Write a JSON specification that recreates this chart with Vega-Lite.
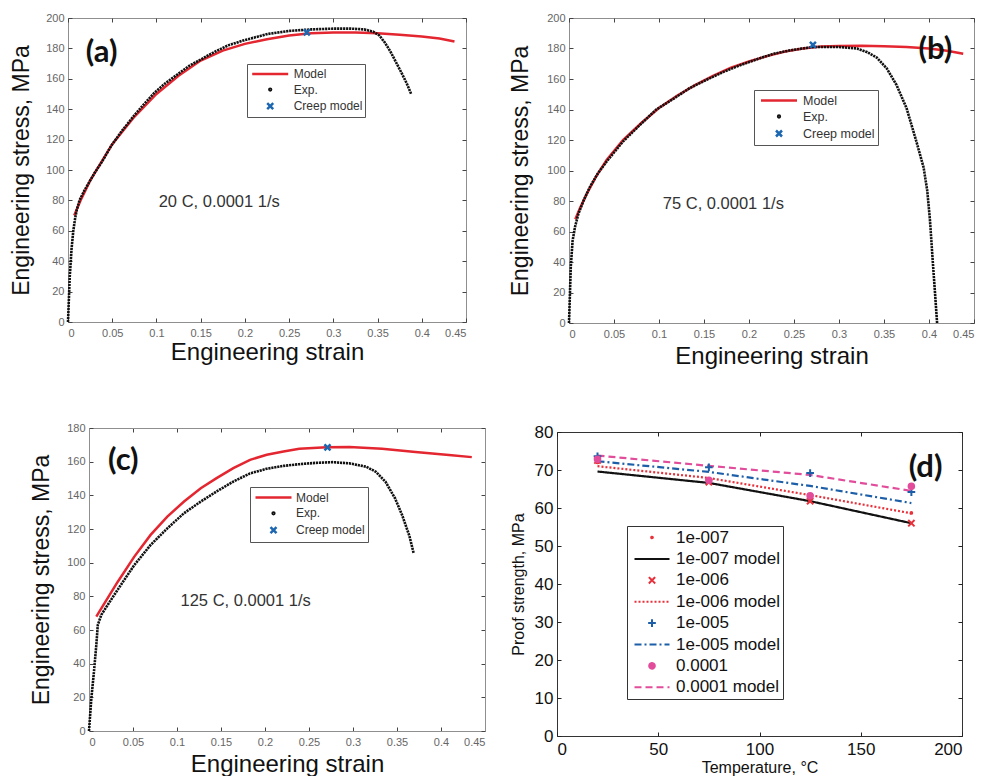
{
  "$schema": "https://vega.github.io/schema/vega-lite/v6.json",
  "padding": {"left": 10, "top": 11, "right": 0, "bottom": 0},
  "config": {
    "font": "Liberation Sans",
    "axis": {"grid": false, "domain": false, "tickSize": -4, "tickColor": "#444", "labelFont": "Liberation Sans", "titleFont": "Liberation Sans", "titleFontWeight": "normal", "titleColor": "#111"},
    "legend": {"labelFont": "Liberation Sans"}
  },
  "datasets": {
    "a": [
      {"series": "Model", "strain": 0.007, "stress": 70}, {"series": "Model", "strain": 0.015, "stress": 81}, {"series": "Model", "strain": 0.025, "stress": 93}, {"series": "Model", "strain": 0.05, "stress": 117}, {"series": "Model", "strain": 0.075, "stress": 135}, {"series": "Model", "strain": 0.1, "stress": 150}, {"series": "Model", "strain": 0.125, "stress": 162}, {"series": "Model", "strain": 0.15, "stress": 172}, {"series": "Model", "strain": 0.175, "stress": 178.5}, {"series": "Model", "strain": 0.2, "stress": 183}, {"series": "Model", "strain": 0.225, "stress": 186}, {"series": "Model", "strain": 0.25, "stress": 188.5}, {"series": "Model", "strain": 0.275, "stress": 190}, {"series": "Model", "strain": 0.3, "stress": 190.5}, {"series": "Model", "strain": 0.325, "stress": 190.5}, {"series": "Model", "strain": 0.35, "stress": 190}, {"series": "Model", "strain": 0.375, "stress": 189}, {"series": "Model", "strain": 0.4, "stress": 187.8}, {"series": "Model", "strain": 0.42, "stress": 186.5}, {"series": "Model", "strain": 0.437, "stress": 184.5},
      {"series": "Exp.", "strain": 0, "stress": 0}, {"series": "Exp.", "strain": 0.002, "stress": 30}, {"series": "Exp.", "strain": 0.004, "stress": 48}, {"series": "Exp.", "strain": 0.006, "stress": 60}, {"series": "Exp.", "strain": 0.008, "stress": 68}, {"series": "Exp.", "strain": 0.01, "stress": 74}, {"series": "Exp.", "strain": 0.013, "stress": 80}, {"series": "Exp.", "strain": 0.018, "stress": 86}, {"series": "Exp.", "strain": 0.023, "stress": 91}, {"series": "Exp.", "strain": 0.03, "stress": 98}, {"series": "Exp.", "strain": 0.038, "stress": 105}, {"series": "Exp.", "strain": 0.049, "stress": 116}, {"series": "Exp.", "strain": 0.06, "stress": 125}, {"series": "Exp.", "strain": 0.075, "stress": 136}, {"series": "Exp.", "strain": 0.087, "stress": 144}, {"series": "Exp.", "strain": 0.098, "stress": 151}, {"series": "Exp.", "strain": 0.11, "stress": 157}, {"series": "Exp.", "strain": 0.124, "stress": 163}, {"series": "Exp.", "strain": 0.137, "stress": 168.5}, {"series": "Exp.", "strain": 0.151, "stress": 173}, {"series": "Exp.", "strain": 0.165, "stress": 177.5}, {"series": "Exp.", "strain": 0.181, "stress": 182}, {"series": "Exp.", "strain": 0.2, "stress": 185.5}, {"series": "Exp.", "strain": 0.226, "stress": 189.5}, {"series": "Exp.", "strain": 0.25, "stress": 191.5}, {"series": "Exp.", "strain": 0.275, "stress": 192.5}, {"series": "Exp.", "strain": 0.3, "stress": 193}, {"series": "Exp.", "strain": 0.32, "stress": 193}, {"series": "Exp.", "strain": 0.335, "stress": 192.5}, {"series": "Exp.", "strain": 0.345, "stress": 191}, {"series": "Exp.", "strain": 0.352, "stress": 188.5}, {"series": "Exp.", "strain": 0.358, "stress": 184}, {"series": "Exp.", "strain": 0.364, "stress": 178.5}, {"series": "Exp.", "strain": 0.369, "stress": 173}, {"series": "Exp.", "strain": 0.377, "stress": 164}, {"series": "Exp.", "strain": 0.383, "stress": 157}, {"series": "Exp.", "strain": 0.388, "stress": 150},
      {"series": "Creep model", "strain": 0.27, "stress": 190.6}
    ],
    "b": [
      {"series": "Model", "strain": 0.007, "stress": 68}, {"series": "Model", "strain": 0.012, "stress": 75}, {"series": "Model", "strain": 0.02, "stress": 85}, {"series": "Model", "strain": 0.03, "stress": 96}, {"series": "Model", "strain": 0.042, "stress": 107}, {"series": "Model", "strain": 0.06, "stress": 120}, {"series": "Model", "strain": 0.08, "stress": 131}, {"series": "Model", "strain": 0.1, "stress": 141}, {"series": "Model", "strain": 0.12, "stress": 149}, {"series": "Model", "strain": 0.14, "stress": 156}, {"series": "Model", "strain": 0.16, "stress": 162}, {"series": "Model", "strain": 0.18, "stress": 167.5}, {"series": "Model", "strain": 0.2, "stress": 171.5}, {"series": "Model", "strain": 0.22, "stress": 175}, {"series": "Model", "strain": 0.24, "stress": 178}, {"series": "Model", "strain": 0.26, "stress": 180}, {"series": "Model", "strain": 0.28, "stress": 181.3}, {"series": "Model", "strain": 0.3, "stress": 181.7}, {"series": "Model", "strain": 0.325, "stress": 181.8}, {"series": "Model", "strain": 0.35, "stress": 181.5}, {"series": "Model", "strain": 0.375, "stress": 181}, {"series": "Model", "strain": 0.4, "stress": 180}, {"series": "Model", "strain": 0.42, "stress": 178.5}, {"series": "Model", "strain": 0.438, "stress": 176.5},
      {"series": "Exp.", "strain": 0, "stress": 0}, {"series": "Exp.", "strain": 0.002, "stress": 37}, {"series": "Exp.", "strain": 0.004, "stress": 54}, {"series": "Exp.", "strain": 0.0067, "stress": 63}, {"series": "Exp.", "strain": 0.0104, "stress": 71.5}, {"series": "Exp.", "strain": 0.016, "stress": 80}, {"series": "Exp.", "strain": 0.023, "stress": 89}, {"series": "Exp.", "strain": 0.032, "stress": 98}, {"series": "Exp.", "strain": 0.042, "stress": 106}, {"series": "Exp.", "strain": 0.06, "stress": 119}, {"series": "Exp.", "strain": 0.079, "stress": 130}, {"series": "Exp.", "strain": 0.097, "stress": 140}, {"series": "Exp.", "strain": 0.116, "stress": 147}, {"series": "Exp.", "strain": 0.134, "stress": 154}, {"series": "Exp.", "strain": 0.153, "stress": 159.5}, {"series": "Exp.", "strain": 0.171, "stress": 164.5}, {"series": "Exp.", "strain": 0.19, "stress": 169}, {"series": "Exp.", "strain": 0.209, "stress": 173}, {"series": "Exp.", "strain": 0.227, "stress": 176.5}, {"series": "Exp.", "strain": 0.246, "stress": 178.8}, {"series": "Exp.", "strain": 0.271, "stress": 181}, {"series": "Exp.", "strain": 0.3, "stress": 181}, {"series": "Exp.", "strain": 0.32, "stress": 180}, {"series": "Exp.", "strain": 0.331, "stress": 177.7}, {"series": "Exp.", "strain": 0.342, "stress": 174}, {"series": "Exp.", "strain": 0.353, "stress": 167}, {"series": "Exp.", "strain": 0.364, "stress": 156}, {"series": "Exp.", "strain": 0.375, "stress": 141}, {"series": "Exp.", "strain": 0.386, "stress": 119}, {"series": "Exp.", "strain": 0.394, "stress": 102}, {"series": "Exp.", "strain": 0.398, "stress": 87}, {"series": "Exp.", "strain": 0.401, "stress": 68}, {"series": "Exp.", "strain": 0.404, "stress": 42}, {"series": "Exp.", "strain": 0.407, "stress": 17}, {"series": "Exp.", "strain": 0.409, "stress": 0},
      {"series": "Creep model", "strain": 0.271, "stress": 182.4}
    ],
    "c": [
      {"series": "Model", "strain": 0.0083, "stress": 67.9}, {"series": "Model", "strain": 0.014, "stress": 72.8}, {"series": "Model", "strain": 0.0327, "stress": 88.7}, {"series": "Model", "strain": 0.0515, "stress": 103.6}, {"series": "Model", "strain": 0.07, "stress": 116.5}, {"series": "Model", "strain": 0.089, "stress": 127.4}, {"series": "Model", "strain": 0.108, "stress": 136.3}, {"series": "Model", "strain": 0.127, "stress": 144.2}, {"series": "Model", "strain": 0.145, "stress": 150.2}, {"series": "Model", "strain": 0.164, "stress": 156.2}, {"series": "Model", "strain": 0.183, "stress": 161.1}, {"series": "Model", "strain": 0.202, "stress": 164.1}, {"series": "Model", "strain": 0.221, "stress": 166}, {"series": "Model", "strain": 0.239, "stress": 167.7}, {"series": "Model", "strain": 0.27, "stress": 168.5}, {"series": "Model", "strain": 0.296, "stress": 168.7}, {"series": "Model", "strain": 0.333, "stress": 167.7}, {"series": "Model", "strain": 0.371, "stress": 165.7}, {"series": "Model", "strain": 0.409, "stress": 164}, {"series": "Model", "strain": 0.435, "stress": 162.7},
      {"series": "Exp.", "strain": 0, "stress": 0}, {"series": "Exp.", "strain": 0.0026, "stress": 19}, {"series": "Exp.", "strain": 0.0056, "stress": 35}, {"series": "Exp.", "strain": 0.0083, "stress": 51}, {"series": "Exp.", "strain": 0.01, "stress": 63}, {"series": "Exp.", "strain": 0.014, "stress": 69}, {"series": "Exp.", "strain": 0.0214, "stress": 75}, {"series": "Exp.", "strain": 0.0327, "stress": 84}, {"series": "Exp.", "strain": 0.0515, "stress": 98.6}, {"series": "Exp.", "strain": 0.07, "stress": 110.5}, {"series": "Exp.", "strain": 0.089, "stress": 120.4}, {"series": "Exp.", "strain": 0.108, "stress": 129.4}, {"series": "Exp.", "strain": 0.127, "stress": 136.3}, {"series": "Exp.", "strain": 0.145, "stress": 142.3}, {"series": "Exp.", "strain": 0.164, "stress": 148.2}, {"series": "Exp.", "strain": 0.183, "stress": 153}, {"series": "Exp.", "strain": 0.202, "stress": 155.8}, {"series": "Exp.", "strain": 0.221, "stress": 157.5}, {"series": "Exp.", "strain": 0.239, "stress": 158.5}, {"series": "Exp.", "strain": 0.258, "stress": 159.3}, {"series": "Exp.", "strain": 0.277, "stress": 159.7}, {"series": "Exp.", "strain": 0.296, "stress": 159}, {"series": "Exp.", "strain": 0.315, "stress": 157}, {"series": "Exp.", "strain": 0.326, "stress": 154}, {"series": "Exp.", "strain": 0.337, "stress": 148}, {"series": "Exp.", "strain": 0.348, "stress": 138}, {"series": "Exp.", "strain": 0.356, "stress": 128}, {"series": "Exp.", "strain": 0.364, "stress": 116}, {"series": "Exp.", "strain": 0.369, "stress": 105.5},
      {"series": "Creep model", "strain": 0.271, "stress": 168.5}
    ],
    "d": [
      {"series": "1e-007 model", "temp": 20, "strength": 69.6}, {"series": "1e-007 model", "temp": 75, "strength": 66.6}, {"series": "1e-007 model", "temp": 125, "strength": 61.8}, {"series": "1e-007 model", "temp": 175, "strength": 56},
      {"series": "1e-006 model", "temp": 20, "strength": 71}, {"series": "1e-006 model", "temp": 75, "strength": 67.9}, {"series": "1e-006 model", "temp": 125, "strength": 63.4}, {"series": "1e-006 model", "temp": 175, "strength": 58.6},
      {"series": "1e-005 model", "temp": 20, "strength": 72.3}, {"series": "1e-005 model", "temp": 75, "strength": 69.5}, {"series": "1e-005 model", "temp": 125, "strength": 65.8}, {"series": "1e-005 model", "temp": 175, "strength": 61.3},
      {"series": "0.0001 model", "temp": 20, "strength": 73.8}, {"series": "0.0001 model", "temp": 75, "strength": 71.1}, {"series": "0.0001 model", "temp": 125, "strength": 68.7}, {"series": "0.0001 model", "temp": 175, "strength": 64.5},
      {"series": "1e-007", "temp": 20, "strength": 72}, {"series": "1e-007", "temp": 75, "strength": 66.8}, {"series": "1e-007", "temp": 125, "strength": 62}, {"series": "1e-007", "temp": 175, "strength": 58.7},
      {"series": "1e-006", "temp": 20, "strength": 72.5}, {"series": "1e-006", "temp": 75, "strength": 66.8}, {"series": "1e-006", "temp": 125, "strength": 61.8}, {"series": "1e-006", "temp": 175, "strength": 56},
      {"series": "1e-005", "temp": 20, "strength": 73.6}, {"series": "1e-005", "temp": 75, "strength": 70.7}, {"series": "1e-005", "temp": 125, "strength": 69.2}, {"series": "1e-005", "temp": 175, "strength": 64.2},
      {"series": "0.0001", "temp": 20, "strength": 72.8}, {"series": "0.0001", "temp": 75, "strength": 67.3}, {"series": "0.0001", "temp": 125, "strength": 63.2}, {"series": "0.0001", "temp": 175, "strength": 65.7}
    ],
    "labels": [
      {"panel": "a", "kind": "tag", "t": "(a)", "strain": 0.038, "stress": 177},
      {"panel": "a", "kind": "cond", "t": "20 C, 0.0001 1/s", "strain": 0.171, "stress": 79},
      {"panel": "b", "kind": "tag", "t": "(b)", "strain": 0.407, "stress": 179},
      {"panel": "b", "kind": "cond", "t": "75 C, 0.0001 1/s", "strain": 0.1715, "stress": 78},
      {"panel": "c", "kind": "tag", "t": "(c)", "strain": 0.039, "stress": 160.6},
      {"panel": "c", "kind": "cond", "t": "125 C, 0.0001 1/s", "strain": 0.178, "stress": 77}
    ],
    "dlabels": [
      {"t": "(d)", "temp": 182, "strength": 70.5}
    ]
  },
  "columns": 2,
  "align": "none",
  "spacing": {"row": 53, "column": 23},
  "resolve": {"scale": {"color": "independent", "shape": "independent", "strokeDash": "independent"}},
  "concat": [
    {
      "width": 398, "height": 304,
      "view": {"stroke": "#8f8f8f"},
      "resolve": {"axis": {"x": "independent", "y": "independent"}},
      "layer": [
        {
          "data": {"name": "a"},
          "transform": [{"filter": "datum.series === 'Model'"}],
          "mark": {"type": "line", "strokeWidth": 2.5},
          "encoding": {
            "x": {"field": "strain", "type": "quantitative", "scale": {"domain": [0, 0.45], "nice": false, "zero": false},
                  "axis": {"orient": "bottom", "title": "Engineering strain", "titleFontSize": 24, "titlePadding": 2, "values": [0, 0.05, 0.1, 0.15, 0.2, 0.25, 0.3, 0.35, 0.4, 0.45], "format": "~g", "labelFontSize": 11, "labelColor": "#666", "labelPadding": 9}},
            "y": {"field": "stress", "type": "quantitative", "scale": {"domain": [0, 200], "nice": false},
                  "axis": {"orient": "left", "title": "Engineering stress, MPa", "titleFontSize": 23, "titlePadding": 12, "values": [0, 20, 40, 60, 80, 100, 120, 140, 160, 180, 200], "labelFontSize": 11, "labelColor": "#666", "labelPadding": 8}},
            "color": {"field": "series", "type": "nominal", "scale": {"domain": ["Model", "Exp.", "Creep model"], "range": ["#e32630", "#111111", "#1c67b0"]},
                      "legend": {"title": null, "orient": "none", "legendX": 179, "legendY": 46, "padding": 2.5, "strokeColor": "#555", "fillColor": "white", "labelFontSize": 12, "labelColor": "#333", "symbolSize": 144, "symbolOffset": 13.2, "labelOffset": 16, "rowPadding": 1.6, "symbolStrokeWidth": 2.5, "labelLimit": 300}}
          }
        },
        {
          "data": {"name": "a"},
          "transform": [{"filter": "datum.series === 'Exp.'"}],
          "mark": {"type": "line", "strokeWidth": 2.6, "strokeDash": [2.2, 0.8]},
          "encoding": {
            "x": {"field": "strain", "type": "quantitative", "scale": {"domain": [0, 0.45], "nice": false, "zero": false}, "axis": {"orient": "top", "labels": false, "title": null, "values": [0, 0.05, 0.1, 0.15, 0.2, 0.25, 0.3, 0.35, 0.4, 0.45]}},
            "y": {"field": "stress", "type": "quantitative", "scale": {"domain": [0, 200], "nice": false}, "axis": {"orient": "right", "labels": false, "title": null, "values": [0, 20, 40, 60, 80, 100, 120, 140, 160, 180, 200]}},
            "color": {"field": "series", "type": "nominal", "scale": {"domain": ["Model", "Exp.", "Creep model"], "range": ["#e32630", "#111111", "#1c67b0"]}}
          }
        },
        {
          "data": {"name": "a"},
          "transform": [{"filter": "datum.series === 'Creep model'"}],
          "mark": {"type": "point", "size": 144, "strokeWidth": 2.5, "opacity": 1},
          "encoding": {
            "x": {"field": "strain", "type": "quantitative", "scale": {"domain": [0, 0.45], "nice": false, "zero": false}, "axis": null},
            "y": {"field": "stress", "type": "quantitative", "scale": {"domain": [0, 200], "nice": false}, "axis": null},
            "color": {"field": "series", "type": "nominal", "scale": {"domain": ["Model", "Exp.", "Creep model"], "range": ["#e32630", "#111111", "#1c67b0"]}},
            "shape": {"field": "series", "type": "nominal", "scale": {"domain": ["Model", "Exp.", "Creep model"], "range": ["M-3,0H3", "M-0.15,0A0.15,0.15,0,1,1,0.15,0A0.15,0.15,0,1,1,-0.15,0Z", "M-0.5,-0.5L0.5,0.5M-0.5,0.5L0.5,-0.5"]},
                      "legend": {"title": null, "orient": "none", "legendX": 179, "legendY": 46, "padding": 2.5, "strokeColor": "#555", "fillColor": "white", "labelFontSize": 12, "labelColor": "#333", "symbolSize": 144, "symbolOffset": 13.2, "labelOffset": 16, "rowPadding": 1.6, "symbolStrokeWidth": 2.5, "labelLimit": 300}}
          }
        },
        {
          "data": {"name": "labels"},
          "transform": [{"filter": "datum.panel === 'a' && datum.kind === 'tag'"}],
          "mark": {"type": "text", "font": "Lato", "fontWeight": "bold", "fontSize": 31, "color": "#111"},
          "encoding": {
            "x": {"field": "strain", "type": "quantitative", "scale": {"domain": [0, 0.45], "nice": false, "zero": false}, "axis": null},
            "y": {"field": "stress", "type": "quantitative", "scale": {"domain": [0, 200], "nice": false}, "axis": null},
            "text": {"field": "t"}
          }
        },
        {
          "data": {"name": "labels"},
          "transform": [{"filter": "datum.panel === 'a' && datum.kind === 'cond'"}],
          "mark": {"type": "text", "fontSize": 16.5, "color": "#333"},
          "encoding": {
            "x": {"field": "strain", "type": "quantitative", "scale": {"domain": [0, 0.45], "nice": false, "zero": false}, "axis": null},
            "y": {"field": "stress", "type": "quantitative", "scale": {"domain": [0, 200], "nice": false}, "axis": null},
            "text": {"field": "t"}
          }
        }
      ]
    },
    {
      "width": 405, "height": 305,
      "view": {"stroke": "#8f8f8f"},
      "resolve": {"axis": {"x": "independent", "y": "independent"}},
      "layer": [
        {
          "data": {"name": "b"},
          "transform": [{"filter": "datum.series === 'Model'"}],
          "mark": {"type": "line", "strokeWidth": 2.5},
          "encoding": {
            "x": {"field": "strain", "type": "quantitative", "scale": {"domain": [0, 0.45], "nice": false, "zero": false},
                  "axis": {"orient": "bottom", "title": "Engineering strain", "titleFontSize": 24, "titlePadding": 5, "values": [0, 0.05, 0.1, 0.15, 0.2, 0.25, 0.3, 0.35, 0.4, 0.45], "format": "~g", "labelFontSize": 11, "labelColor": "#666", "labelPadding": 9}},
            "y": {"field": "stress", "type": "quantitative", "scale": {"domain": [0, 200], "nice": false},
                  "axis": {"orient": "left", "title": "Engineering stress, MPa", "titleFontSize": 23, "titlePadding": 14, "values": [0, 20, 40, 60, 80, 100, 120, 140, 160, 180, 200], "labelFontSize": 11, "labelColor": "#666", "labelPadding": 8}},
            "color": {"field": "series", "type": "nominal", "scale": {"domain": ["Model", "Exp.", "Creep model"], "range": ["#e32630", "#111111", "#1c67b0"]},
                      "legend": {"title": null, "orient": "none", "legendX": 185, "legendY": 72, "padding": 3, "strokeColor": "#555", "fillColor": "white", "labelFontSize": 12.5, "labelColor": "#333", "symbolSize": 144, "symbolOffset": 14.5, "labelOffset": 16.5, "rowPadding": 2, "symbolStrokeWidth": 2.5, "labelLimit": 300}}
          }
        },
        {
          "data": {"name": "b"},
          "transform": [{"filter": "datum.series === 'Exp.'"}],
          "mark": {"type": "line", "strokeWidth": 2.6, "strokeDash": [2.2, 0.8]},
          "encoding": {
            "x": {"field": "strain", "type": "quantitative", "scale": {"domain": [0, 0.45], "nice": false, "zero": false}, "axis": {"orient": "top", "labels": false, "title": null, "values": [0, 0.05, 0.1, 0.15, 0.2, 0.25, 0.3, 0.35, 0.4, 0.45]}},
            "y": {"field": "stress", "type": "quantitative", "scale": {"domain": [0, 200], "nice": false}, "axis": {"orient": "right", "labels": false, "title": null, "values": [0, 20, 40, 60, 80, 100, 120, 140, 160, 180, 200]}},
            "color": {"field": "series", "type": "nominal", "scale": {"domain": ["Model", "Exp.", "Creep model"], "range": ["#e32630", "#111111", "#1c67b0"]}}
          }
        },
        {
          "data": {"name": "b"},
          "transform": [{"filter": "datum.series === 'Creep model'"}],
          "mark": {"type": "point", "size": 144, "strokeWidth": 2.5, "opacity": 1},
          "encoding": {
            "x": {"field": "strain", "type": "quantitative", "scale": {"domain": [0, 0.45], "nice": false, "zero": false}, "axis": null},
            "y": {"field": "stress", "type": "quantitative", "scale": {"domain": [0, 200], "nice": false}, "axis": null},
            "color": {"field": "series", "type": "nominal", "scale": {"domain": ["Model", "Exp.", "Creep model"], "range": ["#e32630", "#111111", "#1c67b0"]}},
            "shape": {"field": "series", "type": "nominal", "scale": {"domain": ["Model", "Exp.", "Creep model"], "range": ["M-3,0H3", "M-0.15,0A0.15,0.15,0,1,1,0.15,0A0.15,0.15,0,1,1,-0.15,0Z", "M-0.5,-0.5L0.5,0.5M-0.5,0.5L0.5,-0.5"]},
                      "legend": {"title": null, "orient": "none", "legendX": 185, "legendY": 72, "padding": 3, "strokeColor": "#555", "fillColor": "white", "labelFontSize": 12.5, "labelColor": "#333", "symbolSize": 144, "symbolOffset": 14.5, "labelOffset": 16.5, "rowPadding": 2, "symbolStrokeWidth": 2.5, "labelLimit": 300}}
          }
        },
        {
          "data": {"name": "labels"},
          "transform": [{"filter": "datum.panel === 'b' && datum.kind === 'tag'"}],
          "mark": {"type": "text", "font": "Lato", "fontWeight": "bold", "fontSize": 31, "color": "#111"},
          "encoding": {
            "x": {"field": "strain", "type": "quantitative", "scale": {"domain": [0, 0.45], "nice": false, "zero": false}, "axis": null},
            "y": {"field": "stress", "type": "quantitative", "scale": {"domain": [0, 200], "nice": false}, "axis": null},
            "text": {"field": "t"}
          }
        },
        {
          "data": {"name": "labels"},
          "transform": [{"filter": "datum.panel === 'b' && datum.kind === 'cond'"}],
          "mark": {"type": "text", "fontSize": 16.5, "color": "#333"},
          "encoding": {
            "x": {"field": "strain", "type": "quantitative", "scale": {"domain": [0, 0.45], "nice": false, "zero": false}, "axis": null},
            "y": {"field": "stress", "type": "quantitative", "scale": {"domain": [0, 200], "nice": false}, "axis": null},
            "text": {"field": "t"}
          }
        }
      ]
    },
    {
      "width": 417, "height": 303,
      "view": {"stroke": null},
      "resolve": {"axis": {"x": "independent", "y": "independent"}},
      "layer": [
        {
          "data": {"name": "c"},
          "transform": [{"filter": "datum.series === 'Model'"}],
          "mark": {"type": "line", "strokeWidth": 2.5},
          "encoding": {
            "x": {"field": "strain", "type": "quantitative", "scale": {"domain": [0, 0.45], "range": [21, 417], "nice": false, "zero": false},
                  "axis": {"orient": "bottom", "title": "Engineering strain", "titleFontSize": 24, "titlePadding": 5, "titleX": 219, "domain": true, "domainColor": "#8f8f8f", "values": [0, 0.05, 0.1, 0.15, 0.2, 0.25, 0.3, 0.35, 0.4, 0.45], "format": "~g", "labelFontSize": 11, "labelColor": "#666", "labelPadding": 9}},
            "y": {"field": "stress", "type": "quantitative", "scale": {"domain": [0, 180], "nice": false},
                  "axis": {"orient": "left", "offset": -21, "title": "Engineering stress, MPa", "titleFontSize": 23, "titlePadding": 13, "domain": true, "domainColor": "#8f8f8f", "values": [0, 20, 40, 60, 80, 100, 120, 140, 160, 180], "labelFontSize": 11, "labelColor": "#666", "labelPadding": 8}},
            "color": {"field": "series", "type": "nominal", "scale": {"domain": ["Model", "Exp.", "Creep model"], "range": ["#e32630", "#111111", "#1c67b0"]},
                      "legend": {"title": null, "orient": "none", "legendX": 182, "legendY": 59, "padding": 3, "strokeColor": "#555", "fillColor": "white", "labelFontSize": 12, "labelColor": "#333", "symbolSize": 144, "symbolOffset": 13, "labelOffset": 15, "rowPadding": 1.8, "symbolStrokeWidth": 2.5, "labelLimit": 300}}
          }
        },
        {
          "data": {"name": "c"},
          "transform": [{"filter": "datum.series === 'Exp.'"}],
          "mark": {"type": "line", "strokeWidth": 2.6, "strokeDash": [2.2, 0.8]},
          "encoding": {
            "x": {"field": "strain", "type": "quantitative", "scale": {"domain": [0, 0.45], "range": [21, 417], "nice": false, "zero": false}, "axis": {"orient": "top", "labels": false, "title": null, "domain": true, "domainColor": "#8f8f8f", "values": [0, 0.05, 0.1, 0.15, 0.2, 0.25, 0.3, 0.35, 0.4, 0.45]}},
            "y": {"field": "stress", "type": "quantitative", "scale": {"domain": [0, 180], "nice": false}, "axis": {"orient": "right", "labels": false, "title": null, "domain": true, "domainColor": "#8f8f8f", "values": [0, 20, 40, 60, 80, 100, 120, 140, 160, 180]}},
            "color": {"field": "series", "type": "nominal", "scale": {"domain": ["Model", "Exp.", "Creep model"], "range": ["#e32630", "#111111", "#1c67b0"]}}
          }
        },
        {
          "data": {"name": "c"},
          "transform": [{"filter": "datum.series === 'Creep model'"}],
          "mark": {"type": "point", "size": 144, "strokeWidth": 2.5, "opacity": 1},
          "encoding": {
            "x": {"field": "strain", "type": "quantitative", "scale": {"domain": [0, 0.45], "range": [21, 417], "nice": false, "zero": false}, "axis": null},
            "y": {"field": "stress", "type": "quantitative", "scale": {"domain": [0, 180], "nice": false}, "axis": null},
            "color": {"field": "series", "type": "nominal", "scale": {"domain": ["Model", "Exp.", "Creep model"], "range": ["#e32630", "#111111", "#1c67b0"]}},
            "shape": {"field": "series", "type": "nominal", "scale": {"domain": ["Model", "Exp.", "Creep model"], "range": ["M-3,0H3", "M-0.15,0A0.15,0.15,0,1,1,0.15,0A0.15,0.15,0,1,1,-0.15,0Z", "M-0.5,-0.5L0.5,0.5M-0.5,0.5L0.5,-0.5"]},
                      "legend": {"title": null, "orient": "none", "legendX": 182, "legendY": 59, "padding": 3, "strokeColor": "#555", "fillColor": "white", "labelFontSize": 12, "labelColor": "#333", "symbolSize": 144, "symbolOffset": 13, "labelOffset": 15, "rowPadding": 1.8, "symbolStrokeWidth": 2.5, "labelLimit": 300}}
          }
        },
        {
          "data": {"name": "labels"},
          "transform": [{"filter": "datum.panel === 'c' && datum.kind === 'tag'"}],
          "mark": {"type": "text", "font": "Lato", "fontWeight": "bold", "fontSize": 31, "color": "#111"},
          "encoding": {
            "x": {"field": "strain", "type": "quantitative", "scale": {"domain": [0, 0.45], "range": [21, 417], "nice": false, "zero": false}, "axis": null},
            "y": {"field": "stress", "type": "quantitative", "scale": {"domain": [0, 180], "nice": false}, "axis": null},
            "text": {"field": "t"}
          }
        },
        {
          "data": {"name": "labels"},
          "transform": [{"filter": "datum.panel === 'c' && datum.kind === 'cond'"}],
          "mark": {"type": "text", "fontSize": 16.5, "color": "#333"},
          "encoding": {
            "x": {"field": "strain", "type": "quantitative", "scale": {"domain": [0, 0.45], "range": [21, 417], "nice": false, "zero": false}, "axis": null},
            "y": {"field": "stress", "type": "quantitative", "scale": {"domain": [0, 180], "nice": false}, "axis": null},
            "text": {"field": "t"}
          }
        }
      ]
    },
    {
      "width": 405, "height": 304,
      "view": {"stroke": "#333"},
      "resolve": {"axis": {"x": "independent", "y": "independent"}},
      "layer": [
        {
          "data": {"name": "d"},
          "transform": [{"filter": "indexof(datum.series, 'model') >= 0"}],
          "mark": {"type": "line", "strokeWidth": 2.2},
          "encoding": {
            "x": {"field": "temp", "type": "quantitative", "scale": {"domain": [0, 200], "nice": false},
                  "axis": {"orient": "bottom", "title": "Temperature, °C", "titleFontSize": 16, "titlePadding": 1.5, "values": [0, 50, 100, 150, 200], "labelFontSize": 17, "labelColor": "#111", "labelPadding": 9.5, "tickColor": "#222"}},
            "y": {"field": "strength", "type": "quantitative", "scale": {"domain": [0, 80], "nice": false},
                  "axis": {"orient": "left", "title": "Proof strength, MPa", "titleFontSize": 16, "titlePadding": 8, "values": [0, 10, 20, 30, 40, 50, 60, 70, 80], "labelFontSize": 17, "labelColor": "#111", "labelPadding": 8, "tickColor": "#222"}},
            "color": {"field": "series", "type": "nominal", "scale": {"domain": ["1e-007", "1e-007 model", "1e-006", "1e-006 model", "1e-005", "1e-005 model", "0.0001", "0.0001 model"], "range": ["#e8303a", "#111111", "#e8303a", "#e8303a", "#1c5fa8", "#1c5fa8", "#e24d9b", "#e24d9b"]},
                      "legend": {"title": null, "orient": "none", "legendX": 70, "legendY": 94, "padding": 3, "strokeColor": "#333", "fillColor": "white", "labelFontSize": 17, "labelColor": "#111", "symbolSize": 196, "symbolOffset": 13.5, "labelOffset": 15.5, "rowPadding": 3.4, "symbolStrokeWidth": 2, "labelLimit": 300,
                                 "encode": {"symbols": {"update": {"fill": {"signal": "datum.value === '0.0001' ? '#e24d9b' : 'transparent'"}}}}}},
            "strokeDash": {"field": "series", "type": "nominal", "scale": {"domain": ["1e-007", "1e-007 model", "1e-006", "1e-006 model", "1e-005", "1e-005 model", "0.0001", "0.0001 model"], "range": [[1, 0], [1, 0], [1, 0], [2, 2], [1, 0], [7, 3, 2, 3], [1, 0], [7, 4]]},
                      "legend": {"title": null, "orient": "none", "legendX": 70, "legendY": 94, "padding": 3, "strokeColor": "#333", "fillColor": "white", "labelFontSize": 17, "labelColor": "#111", "symbolSize": 196, "symbolOffset": 13.5, "labelOffset": 15.5, "rowPadding": 3.4, "symbolStrokeWidth": 2, "labelLimit": 300}}
          }
        },
        {
          "data": {"name": "d"},
          "transform": [{"filter": "indexof(datum.series, 'model') < 0"}],
          "mark": {"type": "point", "size": 196, "strokeWidth": 2, "opacity": 1},
          "encoding": {
            "x": {"field": "temp", "type": "quantitative", "scale": {"domain": [0, 200], "nice": false}, "axis": {"orient": "top", "labels": false, "title": null, "values": [0, 50, 100, 150, 200], "tickColor": "#222"}},
            "y": {"field": "strength", "type": "quantitative", "scale": {"domain": [0, 80], "nice": false}, "axis": {"orient": "right", "labels": false, "title": null, "values": [0, 10, 20, 30, 40, 50, 60, 70, 80], "tickColor": "#222"}},
            "color": {"field": "series", "type": "nominal", "scale": {"domain": ["1e-007", "1e-007 model", "1e-006", "1e-006 model", "1e-005", "1e-005 model", "0.0001", "0.0001 model"], "range": ["#e8303a", "#111111", "#e8303a", "#e8303a", "#1c5fa8", "#1c5fa8", "#e24d9b", "#e24d9b"]}},
            "fill": {"condition": {"test": "datum.series === '0.0001'", "value": "#e24d9b"}, "value": "transparent"},
            "shape": {"field": "series", "type": "nominal", "scale": {"domain": ["1e-007", "1e-007 model", "1e-006", "1e-006 model", "1e-005", "1e-005 model", "0.0001", "0.0001 model"], "range": ["M-0.12,0A0.12,0.12,0,1,1,0.12,0A0.12,0.12,0,1,1,-0.12,0Z", "M-2.5,0H2.5", "M-0.45,-0.45L0.45,0.45M-0.45,0.45L0.45,-0.45", "M-2.5,0H2.5", "M-0.55,0H0.55M0,-0.55V0.55", "M-2.5,0H2.5", "M-0.4,0A0.4,0.4,0,1,1,0.4,0A0.4,0.4,0,1,1,-0.4,0Z", "M-2.5,0H2.5"]},
                      "legend": {"title": null, "orient": "none", "legendX": 70, "legendY": 94, "padding": 3, "strokeColor": "#333", "fillColor": "white", "labelFontSize": 17, "labelColor": "#111", "symbolSize": 196, "symbolOffset": 13.5, "labelOffset": 15.5, "rowPadding": 3.4, "symbolStrokeWidth": 2, "labelLimit": 300}}
          }
        },
        {
          "data": {"name": "dlabels"},
          "mark": {"type": "text", "font": "Lato", "fontWeight": "bold", "fontSize": 31, "color": "#111"},
          "encoding": {
            "x": {"field": "temp", "type": "quantitative", "scale": {"domain": [0, 200], "nice": false}, "axis": null},
            "y": {"field": "strength", "type": "quantitative", "scale": {"domain": [0, 80], "nice": false}, "axis": null},
            "text": {"field": "t"}
          }
        }
      ]
    }
  ]
}
